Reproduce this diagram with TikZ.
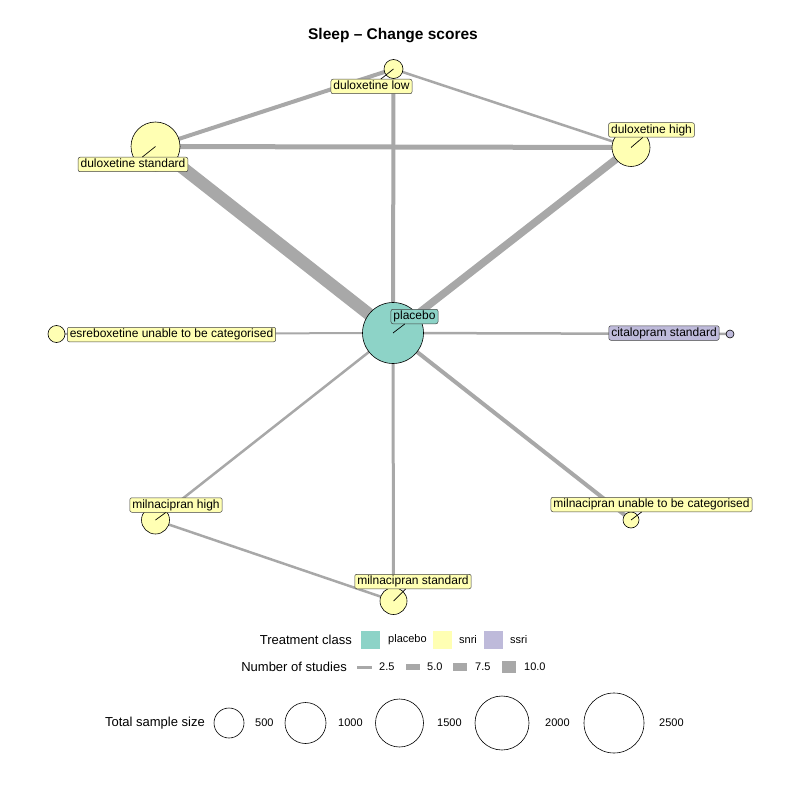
\documentclass[tikz,border=0pt]{standalone}
\usepackage{fontspec}
\setmainfont{Liberation Sans}
\usetikzlibrary{backgrounds}

\definecolor{clplacebo}{HTML}{8DD3C7}
\definecolor{clsnri}{HTML}{FFFFB3}
\definecolor{clssri}{HTML}{BEBADA}
\definecolor{edgegray}{HTML}{A8A8A8}

\newcommand\labsize{\fontsize{12}{14}\selectfont}
\newcommand\legtitle{\fontsize{13}{15}\selectfont}
\newcommand\legsmall{\fontsize{11}{13}\selectfont}

\begin{document}
\begin{tikzpicture}[x=1pt, y=-1pt,
    trt/.style={circle, draw=black, line width=0.6pt, inner sep=0pt, minimum size=#1},
    nplacebo/.style={trt=#1, fill=clplacebo},
    nsnri/.style={trt=#1, fill=clsnri},
    nssri/.style={trt=#1, fill=clssri},
    lab/.style={draw=black!75, line width=0.5pt, rounded corners=2pt, fill=#1,
        inner xsep=2.5pt, inner ysep=1.5pt, text height=9pt, text depth=2.5pt, font=\labsize},
    edge/.style={draw=edgegray, line width=#1},
    pointer/.style={draw=black, line width=0.7pt},
    legtxt/.style={inner sep=0pt, font=\legsmall},
    legbox/.style={inner sep=0pt, minimum width=19pt, minimum height=18pt, fill=#1},
    legcirc/.style={circle, draw=black, line width=0.6pt, inner sep=0pt, minimum size=#1}]
    \useasboundingbox (0,0) rectangle (786,786);

    % 1. Tiêu đề
    \node[font=\fontsize{15.5}{18}\selectfont\bfseries] (title) at (393,36) {Sleep – Change scores};

    % 2. Các nút điều trị
    \node[nsnri=19pt] (dlow) at (393.5,69) {};
    \node[nsnri=49pt] (dstd) at (155.5,146.5) {};
    \node[nsnri=38pt] (dhigh) at (631,147.5) {};
    \node[nplacebo=61pt] (plac) at (393,333) {};
    \node[nsnri=17pt] (esr) at (56.5,334) {};
    \node[nssri=8pt] (cit) at (730,334) {};
    \node[nsnri=28pt] (mhigh) at (155.5,520) {};
    \node[nsnri=16pt] (mun) at (631,520) {};
    \node[nsnri=27pt] (mstd) at (393.5,601) {};

    % 3. Các cạnh (nằm dưới các nút)
    \begin{scope}[on background layer]
        \draw[edge=12.5pt] (plac.center) -- (dstd.center);
        \draw[edge=7.5pt] (plac.center) -- (dhigh.center);
        \draw[edge=4pt] (plac.center) -- (dlow.center);
        \draw[edge=5pt] (dstd.center) -- (dhigh.center);
        \draw[edge=4pt] (dstd.center) -- (dlow.center);
        \draw[edge=2.5pt] (dlow.center) -- (dhigh.center);
        \draw[edge=2pt] (plac.center) -- (esr.center);
        \draw[edge=2.5pt] (plac.center) -- (cit.center);
        \draw[edge=2.5pt] (plac.center) -- (mhigh.center);
        \draw[edge=4pt] (plac.center) -- (mun.center);
        \draw[edge=3pt] (plac.center) -- (mstd.center);
        \draw[edge=2.5pt] (mhigh.center) -- (mstd.center);
    \end{scope}

    % 4. Nhãn các nút
    \node[lab=clsnri] (dlowl) at (371.5,86.5) {duloxetine low};
    \node[lab=clsnri] (dstdl) at (133,164.5) {duloxetine standard};
    \node[lab=clsnri] (dhighl) at (651.5,130) {duloxetine high};
    \node[lab=clplacebo] (placl) at (414.5,316.5) {placebo};
    \node[lab=clsnri] (esrl) at (171.5,334.5) {esreboxetine unable to be categorised};
    \node[lab=clssri] (citl) at (664,333) {citalopram standard};
    \node[lab=clsnri] (mhighl) at (176,505) {milnacipran high};
    \node[lab=clsnri] (munl) at (651.5,504.5) {milnacipran unable to be categorised};
    \node[lab=clsnri] (mstdl) at (413,581.5) {milnacipran standard};

    % Đoạn nối từ tâm nút tới nhãn
    \draw[pointer] (dlow.center) -- (dlowl);
    \draw[pointer] (dstd.center) -- (dstdl);
    \draw[pointer] (dhigh.center) -- (dhighl);
    \draw[pointer] (plac.center) -- (placl);
    \draw[pointer] (mhigh.center) -- (mhighl);
    \draw[pointer] (mun.center) -- (munl);
    \draw[pointer] (mstd.center) -- (mstdl);

    % 5. Chú thích: nhóm điều trị
    \node[anchor=east, inner sep=0pt, font=\legtitle] (lgclass) at (352,640) {Treatment class};
    \node[legbox=clplacebo] (bxplac) at (370.5,640) {};
    \node[legtxt, anchor=west] (txplac) at (388,640) {placebo};
    \node[legbox=clsnri] (bxsnri) at (442,640) {};
    \node[legtxt, anchor=west] (txsnri) at (459,640) {snri};
    \node[legbox=clssri] (bxssri) at (493,640) {};
    \node[legtxt, anchor=west] (txssri) at (510,640) {ssri};

    % Chú thích: số nghiên cứu
    \node[anchor=east, inner sep=0pt, font=\legtitle] (lgstud) at (347,667) {Number of studies};
    \coordinate (sa1) at (357,667); \coordinate (sb1) at (372,667);
    \coordinate (sa2) at (406,667); \coordinate (sb2) at (420,667);
    \coordinate (sa3) at (453,667); \coordinate (sb3) at (467,667);
    \coordinate (sa4) at (502,667); \coordinate (sb4) at (516,667);
    \draw[edge=3pt] (sa1) -- (sb1);
    \draw[edge=5.5pt] (sa2) -- (sb2);
    \draw[edge=8.5pt] (sa3) -- (sb3);
    \draw[edge=11.5pt] (sa4) -- (sb4);
    \node[legtxt, anchor=west] (ts1) at (379,667) {2.5};
    \node[legtxt, anchor=west] (ts2) at (427,667) {5.0};
    \node[legtxt, anchor=west] (ts3) at (475,667) {7.5};
    \node[legtxt, anchor=west] (ts4) at (524,667) {10.0};

    % Chú thích: cỡ mẫu
    \node[anchor=east, inner sep=0pt, font=\legtitle] (lgsize) at (205,723) {Total sample size};
    \node[legcirc=30pt] (c500) at (229,723) {};
    \node[legtxt, anchor=west] (t500) at (255,723) {500};
    \node[legcirc=41pt] (c1000) at (305.5,723) {};
    \node[legtxt, anchor=west] (t1000) at (338,723) {1000};
    \node[legcirc=48pt] (c1500) at (399.5,723) {};
    \node[legtxt, anchor=west] (t1500) at (437,723) {1500};
    \node[legcirc=54pt] (c2000) at (502,723) {};
    \node[legtxt, anchor=west] (t2000) at (545,723) {2000};
    \node[legcirc=60pt] (c2500) at (614,723) {};
    \node[legtxt, anchor=west] (t2500) at (659,723) {2500};
\end{tikzpicture}
\end{document}
